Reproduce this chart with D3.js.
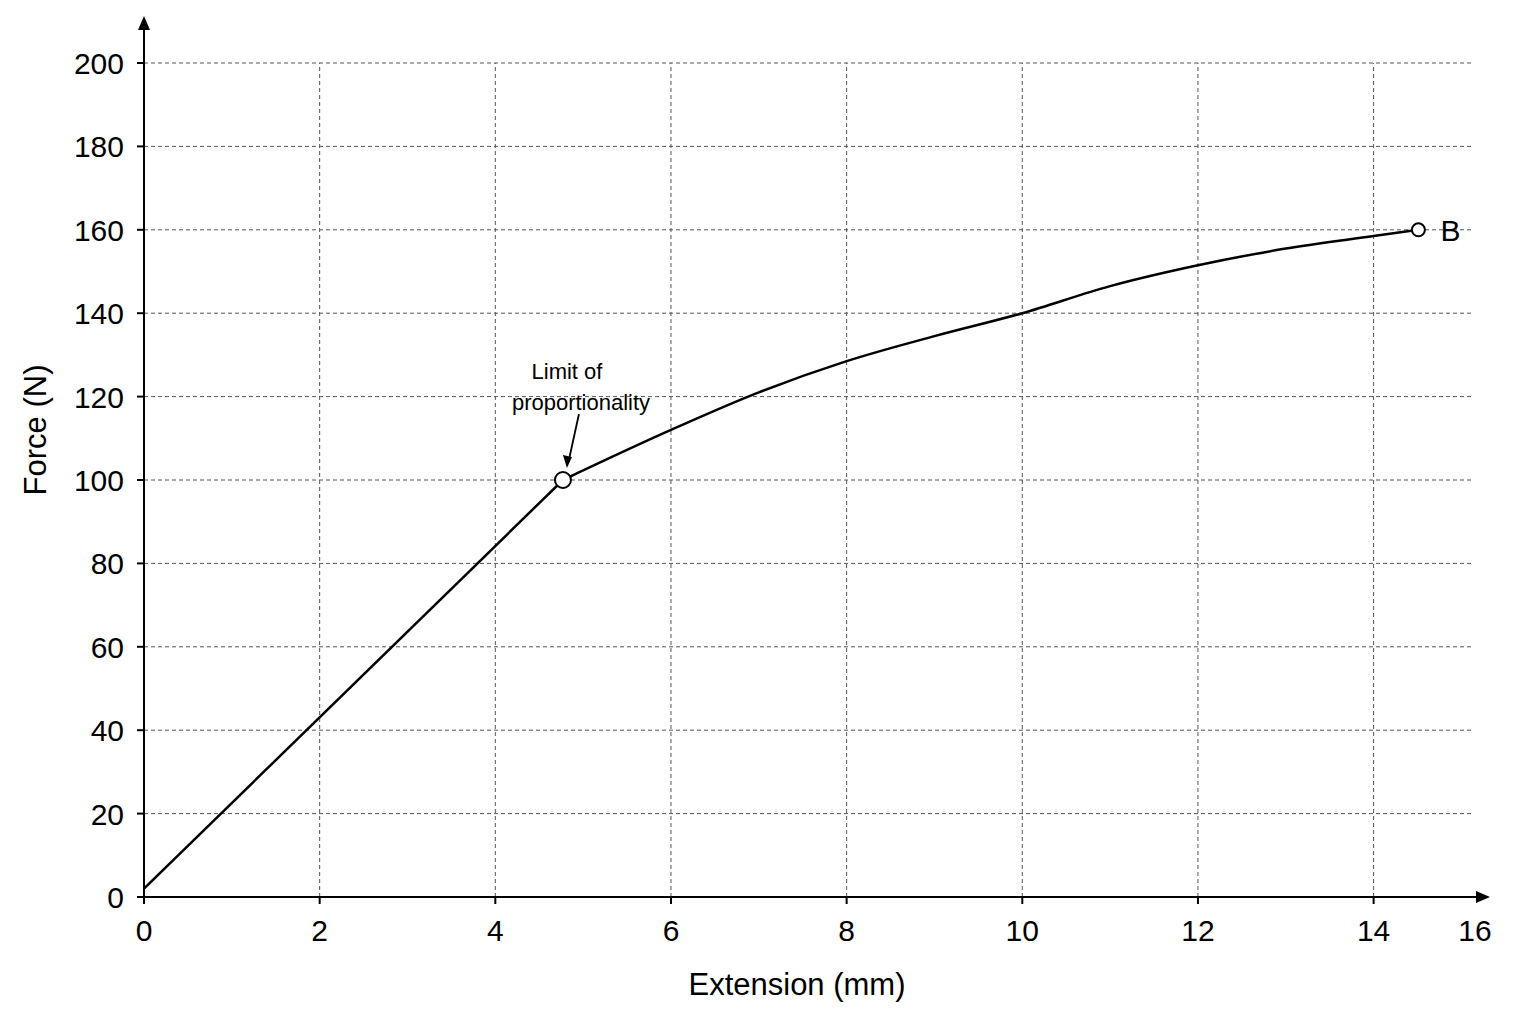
<!DOCTYPE html>
<html><head><meta charset="utf-8">
<script src="https://cdn.jsdelivr.net/npm/d3@7"></script>
<style>body{margin:0;background:#fff}text{font-family:"Liberation Sans",Arial,sans-serif}</style>
</head><body><svg id="c" width="1536" height="1024"></svg>
<script>
const xTicks=[0,2,4,6,8,10,12,14];
const yTicks=[0,20,40,60,80,100,120,140,160,180,200];
const linX=[0,4.77];
const linY=[2,100];
const curveX=[4.77,6,7,8,9,10,11,12,13,14,14.51];
const curveY=[100,112,121,128.5,134.5,140,146.5,151.5,155.5,158.5,160];
const limitPt=[4.77,100];
const bPt=[14.51,160];

const svg=d3.select("#c");
const x=d3.scaleLinear().domain([0,15.2]).range([144,1479]);
const y=d3.scaleLinear().domain([0,200]).range([897,63]);
const gridRight=1472;

svg.append("g").selectAll("line").data(xTicks.slice(1)).join("line")
 .attr("x1",d=>x(d)).attr("x2",d=>x(d)).attr("y1",y(0)).attr("y2",y(200))
 .attr("stroke","#555").attr("stroke-width",1).attr("stroke-dasharray","4,3");
svg.append("g").selectAll("line").data(yTicks.slice(1)).join("line")
 .attr("x1",x(0)).attr("x2",gridRight).attr("y1",d=>y(d)).attr("y2",d=>y(d))
 .attr("stroke","#555").attr("stroke-width",1).attr("stroke-dasharray","4,3");

const ax=svg.append("g").attr("stroke","#000").attr("stroke-width",2);
ax.append("line").attr("x1",x(0)).attr("x2",1480).attr("y1",y(0)).attr("y2",y(0));
ax.append("line").attr("x1",x(0)).attr("x2",x(0)).attr("y1",y(0)).attr("y2",24);
svg.append("path").attr("d","M1490,"+y(0)+" l-14,-6 v12 z").attr("fill","#000");
svg.append("path").attr("d","M"+x(0)+",16 l-6,14 h12 z").attr("fill","#000");
svg.append("g").selectAll("line").data(xTicks).join("line")
 .attr("x1",d=>x(d)).attr("x2",d=>x(d)).attr("y1",y(0)).attr("y2",y(0)+7).attr("stroke","#000").attr("stroke-width",2);
svg.append("g").selectAll("line").data(yTicks).join("line")
 .attr("x1",x(0)-7).attr("x2",x(0)).attr("y1",d=>y(d)).attr("y2",d=>y(d)).attr("stroke","#000").attr("stroke-width",2);
svg.append("g").selectAll("text").data(xTicks).join("text")
 .attr("x",d=>x(d)).attr("y",y(0)+44).attr("text-anchor","middle").attr("font-size",30).text(d=>d);
svg.append("text").attr("x",1475).attr("y",y(0)+44).attr("text-anchor","middle").attr("font-size",30).text("16");
svg.append("g").selectAll("text").data(yTicks).join("text")
 .attr("x",x(0)-20).attr("y",d=>y(d)+11).attr("text-anchor","end").attr("font-size",30).text(d=>d);
svg.append("text").attr("x",797).attr("y",995).attr("text-anchor","middle").attr("font-size",31).text("Extension (mm)");
svg.append("text").attr("transform","translate(46,430) rotate(-90)").attr("text-anchor","middle").attr("font-size",31).text("Force (N)");

const lin=d3.line().x((d,i)=>x(linX[i])).y((d,i)=>y(linY[i]));
svg.append("path").attr("d",lin(linX)).attr("fill","none").attr("stroke","#000").attr("stroke-width",2.5);
const line=d3.line().x((d,i)=>x(curveX[i])).y((d,i)=>y(curveY[i])).curve(d3.curveMonotoneX);
svg.append("path").attr("d",line(curveX)).attr("fill","none").attr("stroke","#000").attr("stroke-width",2.5);

svg.append("circle").attr("cx",x(limitPt[0])).attr("cy",y(limitPt[1])).attr("r",8).attr("fill","#fff").attr("stroke","#000").attr("stroke-width",2);
svg.append("circle").attr("cx",x(bPt[0])).attr("cy",y(bPt[1])).attr("r",6.5).attr("fill","#fff").attr("stroke","#000").attr("stroke-width",2);
svg.append("text").attr("x",x(bPt[0])+22).attr("y",y(bPt[1])+11).attr("font-size",30).text("B");

svg.append("text").attr("x",567).attr("y",379).attr("text-anchor","middle").attr("font-size",22).text("Limit of");
svg.append("text").attr("x",581).attr("y",410).attr("text-anchor","middle").attr("font-size",22).text("proportionality");
const ax0=x(limitPt[0])+16, ay0=y(limitPt[1])-66, ax1=x(limitPt[0])+4, ay1=y(limitPt[1])-12;
svg.append("line").attr("x1",ax0).attr("y1",ay0).attr("x2",ax1+1.5).attr("y2",ay1-6).attr("stroke","#000").attr("stroke-width",1.8);
svg.append("path").attr("d",`M${ax1},${ay1} l-4,-13 l9,2 z`).attr("fill","#000");
</script></body></html>
